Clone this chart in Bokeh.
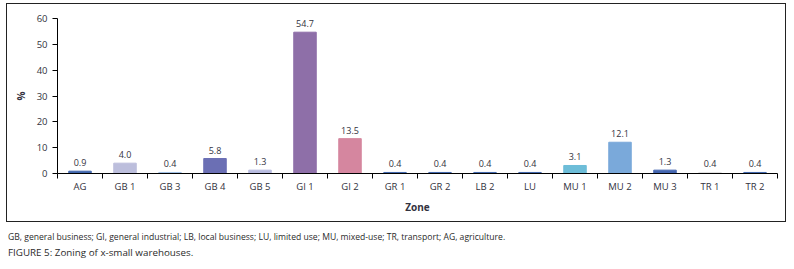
from bokeh.plotting import figure
from bokeh.models import Range1d, FixedTicker, ColumnDataSource, Div, LabelSet
from bokeh.layouts import column
from bokeh.core.properties import value
from bokeh.embed import file_html
from bokeh.resources import INLINE

categories = ["AG", "GB 1", "GB 3", "GB 4", "GB 5", "GI 1", "GI 2", "GR 1",
              "GR 2", "LB 2", "LU", "MU 1", "MU 2", "MU 3", "TR 1", "TR 2"]
values = [0.9, 4.0, 0.4, 5.8, 1.3, 54.7, 13.5, 0.4, 0.4, 0.4, 0.4, 3.1, 12.1, 1.3, 0.4, 0.4]
colors = ["#4066AC", "#BCBEDC", "#A0C0E4", "#6B6FB4", "#B8BBDF", "#8E6FA8", "#D5869F",
          "#4066AC", "#4066AC", "#4066AC", "#4066AC", "#6DBDD8", "#7AA9DA", "#4466B0",
          "#E0E0E0", "#4066AC"]
y_ticks = [0, 10, 20, 30, 40, 50, 60]

n = len(categories)
xs = [i + 0.5 for i in range(n)]
labels = [f"{v:.1f}" for v in values]

src = ColumnDataSource(dict(x=xs, top=values, color=colors, label=labels))

FONT = "Open Sans"
TXT = "#333340"

p = figure(frame_width=720, frame_height=155, x_range=Range1d(0, n), y_range=Range1d(0, 60),
           output_backend="svg", toolbar_location=None,
           min_border_left=51, min_border_right=9, min_border_top=15, min_border_bottom=49,
           styles={"outline": "1px solid #222", "outline-offset": "-1px",
                   "margin-left": "6px", "margin-top": "3px"})
p.outline_line_color = None
p.grid.grid_line_color = None
p.background_fill_color = "white"
p.border_fill_color = None

p.vbar(x="x", top="top", width=0.5, color="color", source=src)
p.add_layout(LabelSet(x="x", y="top", text="label", source=src, y_offset=5,
                      text_align="center", text_baseline="bottom",
                      text_font=value(FONT), text_font_size="9px", text_color=TXT))

xa = p.xaxis[0]
xa.ticker = FixedTicker(ticks=xs, minor_ticks=list(range(n + 1)))
xa.major_label_overrides = {x: c for x, c in zip(xs, categories)}
xa.major_tick_line_color = None
xa.minor_tick_in = 0
xa.minor_tick_out = 5
xa.minor_tick_line_color = "black"
xa.axis_line_color = "black"
xa.major_label_text_font = FONT
xa.major_label_text_font_size = "9.5px"
xa.major_label_text_color = TXT
xa.major_label_standoff = 0
xa.axis_label = "Zone"
xa.axis_label_text_font = FONT
xa.axis_label_text_font_size = "10px"
xa.axis_label_text_font_style = "bold"
xa.axis_label_text_color = TXT
xa.axis_label_standoff = 4

ya = p.yaxis[0]
ya.ticker = FixedTicker(ticks=y_ticks)
ya.major_tick_in = 0
ya.major_tick_out = 5
ya.minor_tick_line_color = None
ya.axis_line_color = "black"
ya.major_tick_line_color = "black"
ya.major_label_text_font = FONT
ya.major_label_text_font_size = "9.5px"
ya.major_label_text_color = TXT
ya.axis_label = "%"
ya.axis_label_text_font = FONT
ya.axis_label_text_font_size = "10px"
ya.axis_label_text_font_style = "bold"
ya.axis_label_text_color = TXT
ya.axis_label_standoff = 6

caption = Div(text=(
    "<div style='font-family:\"Open Sans\";color:#2a2a2a;margin-top:3px;padding-left:3px'>"
    "<div style='font-size:8.6px;line-height:15px'>"
    "GB, general business; GI, general industrial; LB, local business; LU, limited use; "
    "MU, mixed-use; TR, transport; AG, agriculture.</div>"
    "<div style='font-size:9.8px;line-height:15px'>FIGURE 5: Zoning of x-small warehouses.</div>"
    "</div>"), width=780)

layout = column(p, caption, spacing=0)
open("out.html", "w").write(file_html(layout, INLINE))
